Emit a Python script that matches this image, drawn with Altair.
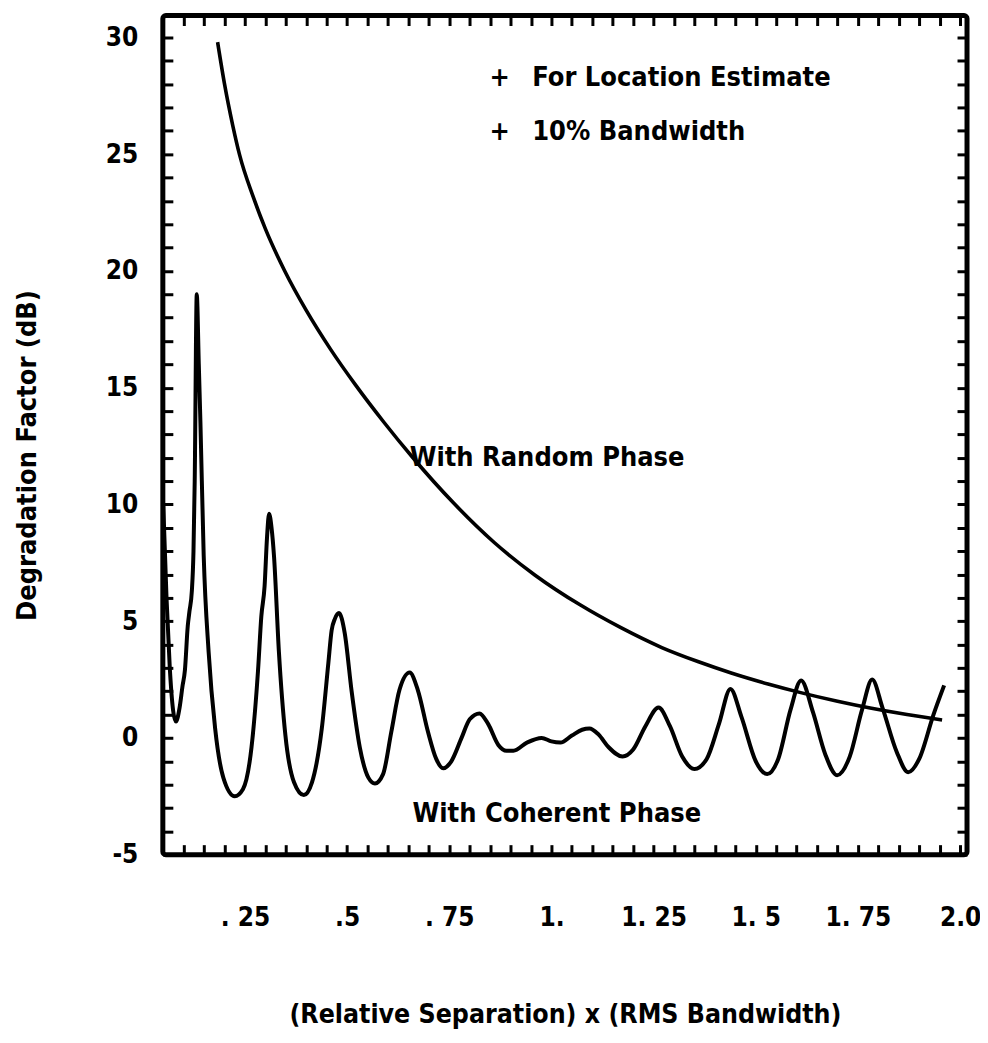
import altair as alt
import pandas as pd

# ---- data ----
coh_x = [0.05, 0.058, 0.066, 0.074, 0.081, 0.09, 0.097, 0.103, 0.110, 0.114, 0.120, 0.124, 0.127,
         0.132, 0.137, 0.141, 0.149, 0.161, 0.177, 0.197, 0.225, 0.245, 0.266, 0.282, 0.290, 0.298,
         0.304, 0.309, 0.315, 0.321, 0.333, 0.349, 0.370, 0.394, 0.414, 0.438, 0.454, 0.462, 0.470,
         0.480, 0.494, 0.511, 0.531, 0.552, 0.568, 0.588, 0.608, 0.628, 0.653, 0.673, 0.698, 0.718,
         0.735, 0.755, 0.78, 0.80, 0.824, 0.845, 0.87, 0.89, 0.907, 0.94, 0.976, 1.00, 1.022, 1.05,
         1.075, 1.093, 1.115, 1.14, 1.174, 1.20, 1.23, 1.262, 1.29, 1.32, 1.35, 1.38, 1.41, 1.438,
         1.465, 1.50, 1.528, 1.555, 1.585, 1.611, 1.64, 1.67, 1.699, 1.73, 1.76, 1.785, 1.81, 1.845,
         1.873, 1.90, 1.935, 1.961]
coh_y = [10.0, 6.0, 3.0, 1.2, 0.7, 1.3, 2.2, 2.9, 4.8, 5.4, 6.3, 8.0, 11.0,
         19.0, 16.0, 13.5, 7.8, 3.7, 0.4, -1.7, -2.5, -2.2, -0.4, 2.9, 5.2, 6.5,
         8.6, 9.6, 9.0, 7.8, 3.7, 0.1, -1.9, -2.45, -1.9, 0.4, 3.2, 4.6, 5.1,
         5.35, 4.5, 2.0, -0.4, -1.7, -1.95, -1.55, 0.25, 2.05, 2.8, 2.05, 0.25, -0.9,
         -1.3, -1.0, 0.0, 0.8, 1.05, 0.6, -0.3, -0.55, -0.55, -0.2, 0.0, -0.15, -0.2, 0.1,
         0.35, 0.4, 0.15, -0.4, -0.8, -0.5, 0.5, 1.3, 0.5, -0.8, -1.33, -0.9, 0.6, 2.1,
         0.9, -1.0, -1.55, -0.9, 1.2, 2.46, 1.1, -0.7, -1.6, -0.8, 1.2, 2.5, 1.3, -0.6,
         -1.47, -0.9, 1.0, 2.25]

rnd_x = [0.183, 0.20, 0.22, 0.237, 0.27, 0.30, 0.347, 0.40, 0.46, 0.52, 0.59, 0.66, 0.76,
         0.86, 0.96, 1.07, 1.17, 1.27, 1.36, 1.44, 1.53, 1.61, 1.70, 1.78, 1.87, 1.956]
rnd_y = [29.8, 28.0, 26.24, 24.96, 23.18, 21.8, 20.01, 18.31, 16.63, 15.13, 13.52, 12.02, 10.07,
         8.37, 6.97, 5.7, 4.72, 3.87, 3.26, 2.78, 2.31, 1.94, 1.57, 1.28, 1.0, 0.77]

note_x = [0.873, 0.953, 0.873, 0.953, 0.653, 0.66]
note_y = [28.25, 28.25, 25.93, 25.93, 11.99, -3.25]
note_text = ["+", "For Location Estimate", "+", "10% Bandwidth",
             "With Random Phase", "With Coherent Phase"]
note_align = ["center", "left", "center", "left", "left", "left"]

x_label_vals = [0.25, 0.5, 0.75, 1.0, 1.25, 1.5, 1.75, 2.0]
x_label_text = [". 25", ".5", ". 75", "1.", "1. 25", "1. 5", "1. 75", "2.0"]
x_tick_vals = [round(0.1 + 0.05 * i, 2) for i in range(39)]
y_tick_vals = list(range(-5, 31))

X_DOMAIN = [0.049, 2.017]
Y_DOMAIN = [-5.0, 30.94]
FONT = "'Liberation Sans Narrow', 'DejaVu Sans Condensed', 'Roboto Condensed', 'DejaVu Sans', sans-serif"

coh = pd.DataFrame({"x": coh_x, "y": coh_y})
rnd = pd.DataFrame({"x": rnd_x, "y": rnd_y})
notes = pd.DataFrame({"x": note_x, "y": note_y, "text": note_text, "align": note_align})

x_expr = " : ".join(
    f"abs(datum.value - {v}) < 0.001 ? '{t}'" for v, t in zip(x_label_vals, x_label_text)
) + " : ''"
y_expr = "datum.value % 5 == 0 ? '' + datum.value : ''"

xs = alt.Scale(domain=X_DOMAIN, nice=False, zero=False)
ys = alt.Scale(domain=Y_DOMAIN, nice=False, zero=False)

tick_common = dict(offset=-10, tickSize=10, tickWidth=3, tickColor="black",
                   domain=False, grid=False)

bottom_axis = alt.Axis(
    orient="bottom", values=x_tick_vals, labelExpr=x_expr, labelPadding=63,
    labelBaseline="middle", labelFont=FONT, labelFontSize=26, labelFontWeight="bold",
    labelColor="black", labelOverlap=False, labelFlush=False,
    title="(Relative Separation) x (RMS Bandwidth)", titleFont=FONT, titleFontSize=26.5,
    titleFontWeight="bold", titleColor="black", titleY=170, titleBaseline="middle",
    **tick_common)
left_axis = alt.Axis(
    orient="left", values=y_tick_vals, labelExpr=y_expr, labelPadding=25,
    labelFont=FONT, labelFontSize=26, labelFontWeight="bold", labelColor="black",
    labelOverlap=False, labelFlush=False, labelBaseline="middle",
    title="Degradation Factor (dB)", titleFont=FONT, titleFontSize=27,
    titleFontWeight="bold", titleColor="black", titleX=-145, titleY=440,
    titleAngle=270, titleBaseline="middle", titleAlign="center",
    **tick_common)
top_axis = alt.Axis(orient="top", values=x_tick_vals, labels=False, title=None, **tick_common)
right_axis = alt.Axis(orient="right", values=y_tick_vals, labels=False, title=None, **tick_common)

coh_line = alt.Chart(coh).mark_line(color="black", strokeWidth=4, interpolate="monotone",
                                     clip=True).encode(
    x=alt.X("x:Q", scale=xs, axis=bottom_axis),
    y=alt.Y("y:Q", scale=ys, axis=left_axis),
)
rnd_line = alt.Chart(rnd).mark_line(color="black", strokeWidth=3.6, interpolate="monotone",
                                     clip=True).encode(
    x=alt.X("x:Q", scale=xs, axis=top_axis),
    y=alt.Y("y:Q", scale=ys, axis=right_axis),
)

def note_layer(align):
    d = notes[notes["align"] == align]
    return alt.Chart(d).mark_text(font=FONT, fontSize=27, fontWeight="bold", color="black",
                                  align=align, baseline="middle").encode(
        x=alt.X("x:Q", scale=xs, axis=None),
        y=alt.Y("y:Q", scale=ys, axis=None),
        text="text:N",
    )

chart = alt.layer(coh_line, rnd_line, note_layer("left"), note_layer("center")).resolve_axis(
    x="independent", y="independent"
).properties(
    width=805, height=840, autosize="none",
    padding={"left": 155, "top": 7, "right": 13, "bottom": 180},
    background="white",
).configure_view(stroke="black", strokeWidth=5, cornerRadius=3)

chart.save("out.html", embed_options={"renderer": "svg", "actions": False})
